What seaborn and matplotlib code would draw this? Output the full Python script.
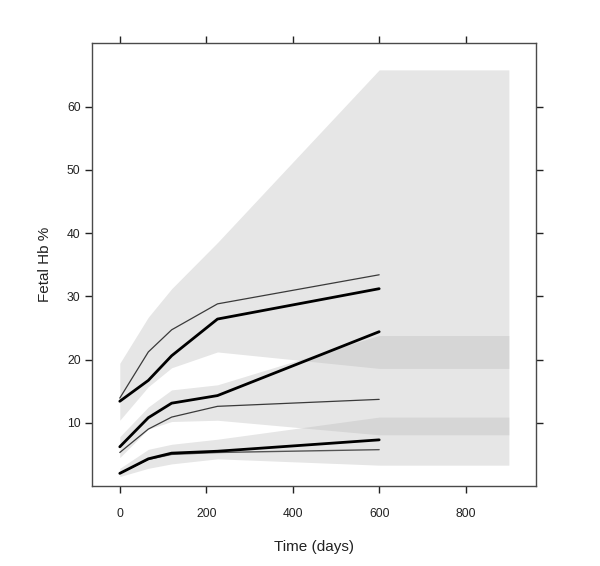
import matplotlib
matplotlib.use("Agg")
import matplotlib.pyplot as plt
import seaborn as sns
import pandas as pd
import numpy as np

# ---- data ----
times = [0, 66, 120, 226, 600]
band_times = [0, 66, 120, 226, 600, 900]

top_thin = [13.9, 21.2, 24.7, 28.8, 33.4]
top_thick = [13.4, 16.7, 20.6, 26.4, 31.2]
mid_thick = [6.2, 10.8, 13.1, 14.3, 24.4]
mid_thin = [5.3, 9.0, 10.9, 12.6, 13.7]
low_thick = [2.0, 4.3, 5.2, 5.5, 7.3]
low_thin = [2.0, 4.2, 5.0, 5.3, 5.75]

band1_lo = [10.4, 15.7, 18.7, 21.2, 18.6, 18.6]
band1_hi = [19.4, 26.7, 31.2, 38.5, 65.8, 65.8]
band2_lo = [4.5, 9.0, 10.2, 10.4, 8.1, 8.1]
band2_hi = [7.8, 12.5, 15.2, 16.0, 23.8, 23.8]
band3_lo = [1.5, 2.8, 3.5, 4.3, 3.3, 3.3]
band3_hi = [2.8, 5.8, 6.6, 7.4, 10.9, 10.9]

x_ticks = [0, 200, 400, 600, 800]
y_ticks = [10, 20, 30, 40, 50, 60]

sns.set_style("white")
plt.rcParams['font.family'] = ['Liberation Sans', 'DejaVu Sans']

fig = plt.figure(figsize=(6.0, 5.66), dpi=100)
ax = fig.add_axes([0.1528, 0.1413, 0.8928 - 0.1528, 0.9235 - 0.1413])

for lo, hi in [(band1_lo, band1_hi), (band2_lo, band2_hi), (band3_lo, band3_hi)]:
    ax.fill_between(band_times, lo, hi, color='#bababa', alpha=0.36, linewidth=0)

series = [
    (top_thin, '#3a3a3a', 0.9),
    (top_thick, 'black', 2.0),
    (mid_thick, 'black', 2.0),
    (mid_thin, '#3a3a3a', 0.9),
    (low_thin, '#555555', 1.0),
    (low_thick, 'black', 2.0),
]
for vals, col, lw in series:
    df = pd.DataFrame({'t': times, 'v': vals})
    sns.lineplot(data=df, x='t', y='v', ax=ax, color=col, linewidth=lw, legend=False)

ax.set_xlim(-65, 962)
ax.set_ylim(0, 70)
ax.set_xticks(x_ticks)
ax.set_yticks(y_ticks)
ax.set_xticklabels([str(v) for v in x_ticks])
ax.set_yticklabels([str(v) for v in y_ticks])

for s in ax.spines.values():
    s.set_visible(True)
    s.set_color('#4a4a4a')
    s.set_linewidth(1.0)

ax.tick_params(axis='both', which='both', direction='out', length=5, width=1,
               color='#222222', labelsize=8.7, labelcolor='#222222',
               top=True, right=True, bottom=True, left=True,
               labeltop=False, labelright=False)
ax.tick_params(axis='x', pad=11)
ax.tick_params(axis='y', pad=3)

ax.set_xlabel('Time (days)', fontsize=11, color='#222222', labelpad=14)
ax.set_ylabel('Fetal Hb %', fontsize=11, color='#222222', labelpad=11)

fig.savefig('out.png', dpi=100, facecolor='white')
